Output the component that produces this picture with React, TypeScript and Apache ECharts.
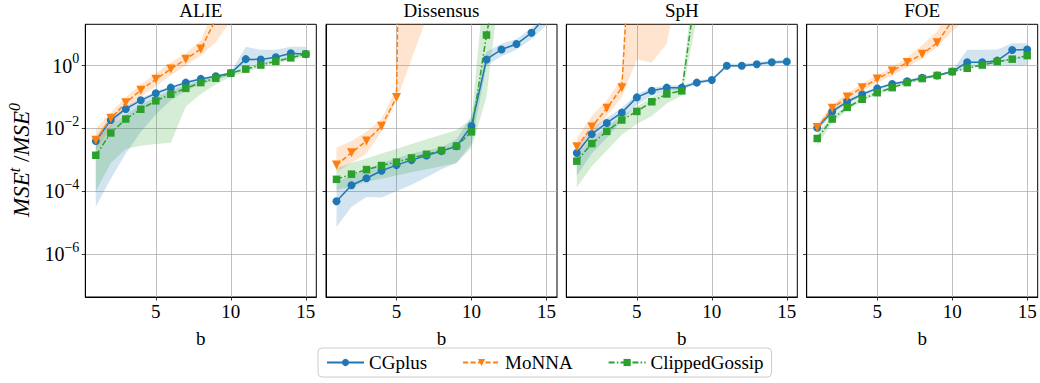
import React, { useEffect, useRef } from "react";
import * as echarts from "echarts";

// ---------- data ----------
const B = [1, 2, 3, 4, 5, 6, 7, 8, 9, 10, 11, 12, 13, 14, 15];
const PANELS = ["ALIE", "Dissensus", "SpH", "FOE"];
const NAMES = ["CGplus", "MoNNA", "ClippedGossip"];
const X_TICKS = [5, 10, 15];
const Y_TICKS = [1e-6, 1e-4, 1e-2, 1];

// ALIE
const alieCG = [4.0e-3, 1.86e-2, 4.2e-2, 7.9e-2, 0.132, 0.2, 0.29, 0.38, 0.46, 0.58, 1.62, 1.58, 1.86, 2.5, 2.34];
const alieCGLo = [3.2e-5, 2.5e-4, 1.6e-3, 7.9e-3, 2.8e-2, 7.9e-2, 0.16, 0.25, 0.35, 0.5, 1.0, 1.12, 1.41, 2.0, 2.0];
const alieCGHi = [5.6e-3, 2.5e-2, 5.0e-2, 9.3e-2, 0.15, 0.22, 0.32, 0.42, 0.5, 0.63, 4.0, 3.2, 3.2, 4.0, 4.0];
const alieMo = [4.2e-3, 2.1e-2, 6.6e-2, 0.166, 0.37, 0.78, 1.62, 3.4, 30, 1e3];
const alieMoLo = [2.0e-3, 1.1e-2, 4.0e-2, 0.1, 0.22, 0.5, 1.0, 2.1, 5.6, 28];
const alieMoHi = [1.0e-2, 3.2e-2, 0.1, 0.25, 0.56, 1.26, 2.5, 6.3, 100, 1e4];
const alieCl = [1.4e-3, 7.2e-3, 2.0e-2, 4.1e-2, 7.6e-2, 0.123, 0.19, 0.29, 0.4, 0.58, 0.78, 1.05, 1.38, 1.78, 2.34];
const alieClLo = [1.0e-4, 7.9e-4, 2.2e-3, 2.8e-3, 3.2e-3, 3.5e-3, 5.0e-2, 0.126, 0.25, 0.45, 0.63, 0.89, 1.2, 1.5, 2.0];
const alieClHi = [5.0e-3, 1.26e-2, 2.8e-2, 5.6e-2, 0.1, 0.16, 0.24, 0.35, 0.47, 0.63, 0.89, 1.2, 1.58, 2.0, 2.7];

// Dissensus
const disCG = [4.8e-5, 1.55e-4, 2.6e-4, 4.5e-4, 6.8e-4, 9.8e-4, 1.38e-3, 1.9e-3, 2.7e-3, 1.2e-2, 1.58, 3.3, 4.9, 11.2, 40];
const disCGLo = [7.2e-6, 3.2e-5, 6.6e-5, 6.3e-5, 1.0e-4, 1.6e-4, 2.8e-4, 5.0e-4, 7.9e-4, 3.2e-3, 1.0, 2.0, 3.2, 7.1, 20];
const disCGHi = [2.0e-4, 3.2e-4, 5.0e-4, 7.9e-4, 1.1e-3, 1.6e-3, 2.0e-3, 2.5e-3, 4.5e-3, 2.5e-2, 2.8, 5.0, 7.1, 15.8, 63];
const disMo = [6.8e-4, 1.7e-3, 4.0e-3, 1.17e-2, 9.8e-2, 1e30];
const disMoLo = [4.0e-4, 7.9e-4, 1.6e-3, 7.9e-3, 7.9e-2, 1.6, 32];
const disMoHi = [2.5e-3, 4.0e-3, 7.9e-3, 2.0e-2, 0.2, 1e30, 1e30];
const disCl = [2.4e-4, 3.5e-4, 4.9e-4, 6.6e-4, 8.5e-4, 1.15e-3, 1.5e-3, 2.0e-3, 2.75e-3, 7.8e-3, 9.5, 4e3];
const disClLo = [1.1e-4, 1.4e-4, 2.0e-4, 2.5e-4, 3.2e-4, 4.0e-4, 5.0e-4, 6.3e-4, 7.9e-4, 2.5e-3, 0.1, 1e3];
const disClHi = [5.6e-4, 7.9e-4, 1.1e-3, 1.6e-3, 2.2e-3, 3.2e-3, 4.5e-3, 6.3e-3, 8.9e-3, 2.0e-2, 2e3, 1e5];

// SpH
const sphCG = [1.66e-3, 6.6e-3, 1.5e-2, 3.2e-2, 9.8e-2, 0.16, 0.2, 0.2, 0.29, 0.35, 1.0, 1.0, 1.12, 1.29, 1.35];
const sphCGLo = [3.2e-4, 1.6e-3, 5.0e-3, 1.8e-2, 5.6e-2, 0.11, 0.16, 0.17, 0.25, 0.32, 0.89, 0.89, 1.0, 1.12, 1.17];
const sphCGHi = [2.8e-3, 1.0e-2, 2.2e-2, 4.5e-2, 0.126, 0.2, 0.24, 0.24, 0.33, 0.4, 1.15, 1.17, 1.32, 1.48, 1.58];
const sphMo = [2.6e-3, 1.12e-2, 4.4e-2, 0.2, 4e7];
const sphMoLo = [1.26e-3, 6.3e-3, 2.5e-2, 0.1, 1.58, 1.26, 5.0, 1.6e3];
const sphMoHi = [5.0e-3, 2.5e-2, 7.9e-2, 0.4, 1e10, 1e10, 1e10, 1e10];
const sphCl = [9.1e-4, 3.3e-3, 8.1e-3, 1.86e-2, 3.5e-2, 7.1e-2, 0.126, 0.158, 400];
const sphClLo = [1.35e-4, 6.3e-4, 2.0e-3, 6.3e-3, 1.4e-2, 2.5e-2, 6.3e-2, 0.112, 32];
const sphClHi = [1.4e-3, 5.0e-3, 1.12e-2, 2.5e-2, 5.0e-2, 0.1, 0.166, 0.22, 3.2e3];

// FOE
const foeCG = [1.05e-2, 3.5e-2, 7.1e-2, 0.123, 0.19, 0.26, 0.32, 0.41, 0.49, 0.65, 1.29, 1.29, 1.45, 3.16, 3.3];
const foeCGLo = [8.3e-3, 2.8e-2, 5.9e-2, 0.105, 0.166, 0.23, 0.29, 0.36, 0.45, 0.59, 1.0, 1.0, 1.05, 1.0, 1.05];
const foeCGHi = [1.26e-2, 4.3e-2, 8.3e-2, 0.14, 0.21, 0.29, 0.36, 0.46, 0.54, 0.71, 3.2, 3.2, 3.3, 5.2, 5.2];
const foeMo = [1.07e-2, 4.4e-2, 0.1, 0.2, 0.38, 0.68, 1.26, 2.34, 5.4, 27, 80, 200];
const foeMoLo = [7.9e-3, 3.2e-2, 7.6e-2, 0.15, 0.28, 0.5, 0.89, 1.74, 4.0, 12.6, 32, 22];
const foeMoHi = [1.4e-2, 5.6e-2, 0.135, 0.27, 0.5, 0.91, 1.78, 4.6, 12.6, 100, 316, 1000];
const foeCl = [4.8e-3, 2.0e-2, 4.7e-2, 8.5e-2, 0.138, 0.2, 0.29, 0.39, 0.49, 0.65, 0.83, 1.05, 1.35, 1.62, 2.1];
const foeClLo = [2.8e-3, 1.5e-2, 3.8e-2, 7.2e-2, 0.12, 0.18, 0.26, 0.35, 0.46, 0.6, 0.78, 0.98, 1.26, 1.51, 1.9];
const foeClHi = [7.1e-3, 2.5e-2, 5.6e-2, 0.1, 0.16, 0.22, 0.32, 0.43, 0.52, 0.69, 0.89, 1.12, 1.45, 1.74, 2.24];

const MEANS = [
  [alieCG, alieMo, alieCl],
  [disCG, disMo, disCl],
  [sphCG, sphMo, sphCl],
  [foeCG, foeMo, foeCl],
];
const LOWS = [
  [alieCGLo, alieMoLo, alieClLo],
  [disCGLo, disMoLo, disClLo],
  [sphCGLo, sphMoLo, sphClLo],
  [foeCGLo, foeMoLo, foeClLo],
];
const HIGHS = [
  [alieCGHi, alieMoHi, alieClHi],
  [disCGHi, disMoHi, disClHi],
  [sphCGHi, sphMoHi, sphClHi],
  [foeCGHi, foeMoHi, foeClHi],
];

// ---------- style ----------
const FONT = "Liberation Serif";
const COLORS = ["#1f77b4", "#ff7f0e", "#2ca02c"];
const SYMBOLS = ["circle", "triangle", "rect"];
const SYMBOL_SIZES = [8, 9, 7.5];
const SYMBOL_ROT = [0, 180, 0];
const DASHES: any[] = ["solid", [5, 2.5], [6, 2.2, 1.5, 2.2]];
const GRID_LEFT = [85.3, 326, 566.3, 806.7];
const GRID_TOP = 24.3;
const GRID_W = 231;
const GRID_H = 272.7;
const Y_MIN = Math.pow(10, -7.37);
const Y_MAX = Math.pow(10, 1.32);

function supLabel(v: number) {
  const e = Math.round(Math.log10(v));
  const s = e < 0 ? "\u2212" + -e : String(e);
  return "{b|10}{s|" + s + "}";
}

export default function App() {
  const ref = useRef<HTMLDivElement>(null);

  useEffect(() => {
    document.body.style.margin = "0";
    const chart = echarts.init(ref.current!, null, { renderer: "svg" });

    const grids = PANELS.map((_, i) => ({
      left: GRID_LEFT[i],
      top: GRID_TOP,
      width: GRID_W,
      height: GRID_H,
      show: true,
      borderColor: "#000",
      borderWidth: 1,
      backgroundColor: "transparent",
    }));

    const xAxes = PANELS.map((_, i) => ({
      type: "value",
      gridIndex: i,
      min: 0.3,
      max: 15.7,
      name: "b",
      nameLocation: "middle",
      nameGap: 32,
      nameTextStyle: { fontFamily: FONT, fontSize: 19, color: "#000" },
      axisLine: { show: true, onZero: false, lineStyle: { color: "#000", width: 1 } },
      axisTick: { show: true, customValues: X_TICKS, length: 3.5, lineStyle: { color: "#000", width: 0.8 } },
      axisLabel: { customValues: X_TICKS, fontFamily: FONT, fontSize: 19, color: "#000", margin: 5 },
      splitLine: { show: true, lineStyle: { color: "#b0b0b0", width: 0.8 } },
    }));

    const yAxes = PANELS.map((_, i) => ({
      type: "log",
      logBase: 10,
      gridIndex: i,
      min: Y_MIN,
      max: Y_MAX,
      axisLine: { show: true, onZero: false, lineStyle: { color: "#000", width: 1 } },
      axisTick: { show: true, customValues: Y_TICKS, length: 3.5, lineStyle: { color: "#000", width: 0.8 } },
      axisLabel: {
        show: i === 0,
        customValues: Y_TICKS,
        margin: 6,
        formatter: supLabel,
        rich: {
          b: { fontFamily: FONT, fontSize: 20, color: "#000" },
          s: { fontFamily: FONT, fontSize: 14, color: "#000", padding: [0, 0, 14, 0] },
        },
      },
      splitLine: { show: true, lineStyle: { color: "#b0b0b0", width: 0.8 } },
    }));

    const series: any[] = [];
    PANELS.forEach((_, p) => {
      // bands
      NAMES.forEach((_, s) => {
        const lo = LOWS[p][s];
        const hi = HIGHS[p][s];
        const data = lo.map((l, k) => [B[k], l, hi[k]]);
        series.push({
          type: "custom",
          xAxisIndex: p,
          yAxisIndex: p,
          silent: true,
          z: 1,
          data,
          encode: { x: 0, y: [1, 2] },
          renderItem: (params: any, api: any) => {
            if (params.dataIndex !== 0) return null;
            const upper = data.map((d) => api.coord([d[0], d[2]]));
            const lower = data.map((d) => api.coord([d[0], d[1]])).reverse();
            const cs = params.coordSys;
            return {
              type: "polygon",
              shape: { points: upper.concat(lower) },
              style: { fill: COLORS[s], opacity: 0.2 },
              clipPath: { type: "rect", shape: { x: cs.x, y: cs.y, width: cs.width, height: cs.height } },
            };
          },
        });
      });
      // lines
      NAMES.forEach((name, s) => {
        const vals = MEANS[p][s];
        series.push({
          type: "line",
          name,
          xAxisIndex: p,
          yAxisIndex: p,
          z: 3,
          clip: true,
          data: vals.map((v, k) => [B[k], v]),
          symbol: SYMBOLS[s],
          symbolSize: SYMBOL_SIZES[s],
          symbolRotate: SYMBOL_ROT[s],
          showSymbol: true,
          lineStyle: { color: COLORS[s], width: 1.5, type: DASHES[s] },
          itemStyle: { color: COLORS[s] },
        });
      });
    });

    const option: any = {
      animation: false,
      backgroundColor: "#fff",
      title: PANELS.map((t, i) => ({
        text: t,
        left: GRID_LEFT[i] + GRID_W / 2,
        top: 1,
        textAlign: "center",
        padding: 0,
        textStyle: { fontFamily: FONT, fontSize: 19, fontWeight: "normal", color: "#000" },
      })),
      grid: grids,
      xAxis: xAxes,
      yAxis: yAxes,
      legend: {
        data: NAMES,
        left: 318,
        top: 348,
        itemWidth: 37,
        itemHeight: 9,
        itemGap: 35,
        padding: [5, 8, 5, 8],
        borderColor: "#cccccc",
        borderWidth: 1,
        borderRadius: 4,
        backgroundColor: "#fff",
        textStyle: { fontFamily: FONT, fontSize: 19, color: "#000" },
      },
      graphic: [
        {
          type: "text",
          x: 21,
          y: 160,
          rotation: Math.PI / 2,
          style: {
            text: "{i|MSE}{s|t}{r| /}{i|MSE}{s|0}",
            align: "center",
            verticalAlign: "middle",
            fill: "#000",
            rich: {
              i: { fontFamily: FONT, fontSize: 23, fontStyle: "italic", fill: "#000", color: "#000" },
              r: { fontFamily: FONT, fontSize: 23, fill: "#000", color: "#000" },
              s: { fontFamily: FONT, fontSize: 16, fontStyle: "italic", fill: "#000", color: "#000", padding: [0, 0, 14, 0] },
            },
          },
        },
      ],
      series,
    };

    chart.setOption(option);
    return () => chart.dispose();
  }, []);

  return <div ref={ref} style={{ width: 1040, height: 383 }} />;
}
